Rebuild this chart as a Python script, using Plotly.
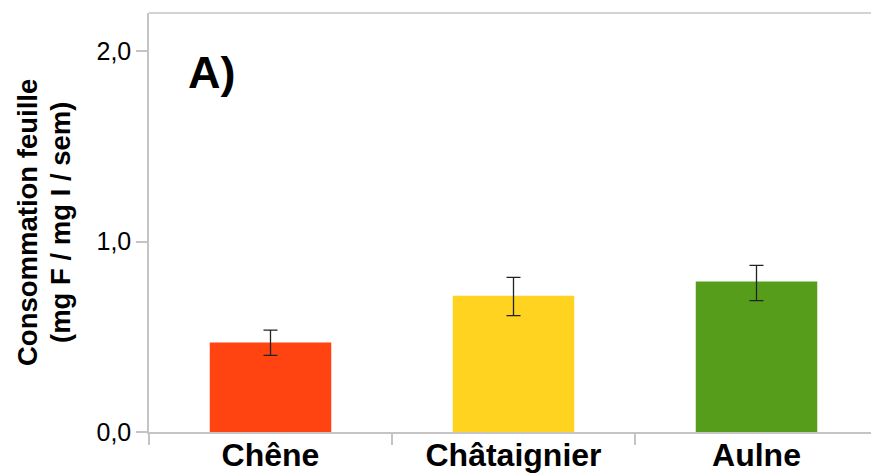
import plotly.graph_objects as go

# Leaf consumption per species (mg leaf / mg individual / week)
species = ["Chêne", "Châtaignier", "Aulne"]
consumption = [0.47, 0.715, 0.79]
error_hi = [0.065, 0.097, 0.085]
error_lo = [0.068, 0.104, 0.10]
bar_colors = ["#FF4411", "#FFD320", "#579D1C"]

y_ticks = [0.0, 1.0, 2.0]
y_tick_labels = ["0,0", "1,0", "2,0"]

W, H = 871, 473
M_L, M_R, M_T, M_B = 149, 0, 13, 41
CAT_PX = 243  # pixel width of one category slot
plot_w = W - M_L - M_R
x_end = -0.5 + plot_w / CAT_PX

axis_grey = "#C4C4C4"
font_family = "Liberation Sans, Arial, sans-serif"

fig = go.Figure(
    go.Bar(
        x=species,
        y=consumption,
        width=0.5,
        marker=dict(color=bar_colors, line=dict(width=0)),
        error_y=dict(
            type="data",
            symmetric=False,
            array=error_hi,
            arrayminus=error_lo,
            color="#222222",
            thickness=1.3,
            width=7,
        ),
    )
)

fig.update_layout(
    width=W,
    height=H,
    margin=dict(l=M_L, r=M_R, t=M_T, b=M_B, pad=0, autoexpand=False),
    paper_bgcolor="white",
    plot_bgcolor="white",
    showlegend=False,
    font=dict(family=font_family, color="black"),
    bargap=0.5,
)

fig.update_xaxes(
    type="category",
    automargin=False,
    range=[-0.5, x_end],
    tickson="boundaries",
    ticks="outside",
    ticklen=11,
    tickwidth=1.5,
    tickcolor=axis_grey,
    ticklabelstandoff=-6,
    showline=True,
    linecolor=axis_grey,
    linewidth=1.5,
    showgrid=False,
    tickfont=dict(family=font_family, size=32, color="black", weight="bold"),
)

fig.update_yaxes(
    automargin=False,
    range=[0, 2.2],
    tickvals=y_ticks,
    ticktext=y_tick_labels,
    ticks="outside",
    ticklen=11,
    tickwidth=1.5,
    tickcolor=axis_grey,
    ticklabelstandoff=0,
    showline=True,
    linecolor=axis_grey,
    linewidth=1.5,
    showgrid=False,
    zeroline=False,
    tickfont=dict(family=font_family, size=25, color="black"),
)

# top frame line
fig.add_shape(
    type="line", xref="paper", yref="paper",
    x0=0, x1=1, y0=1, y1=1,
    line=dict(color=axis_grey, width=1.5),
)

plot_h = H - M_T - M_B


def px_x(px):
    return (px - M_L) / plot_w


def px_y(py):
    return (H - M_B - py) / plot_h


# panel label
fig.add_annotation(
    text="<b>A)</b>", xref="paper", yref="paper",
    x=px_x(186), y=px_y(72), xanchor="left", yanchor="middle",
    showarrow=False, font=dict(family=font_family, size=45, color="black"),
)

# y-axis title, two lines
for text, cx in [("Consommation feuille", 27), ("(mg F / mg I / sem)", 60)]:
    fig.add_annotation(
        text=f"<b>{text}</b>", xref="paper", yref="paper",
        x=px_x(cx), y=px_y(223), xanchor="center", yanchor="middle",
        textangle=-90, showarrow=False,
        font=dict(family=font_family, size=27.5, color="black"),
    )

fig.write_html("out.html")
